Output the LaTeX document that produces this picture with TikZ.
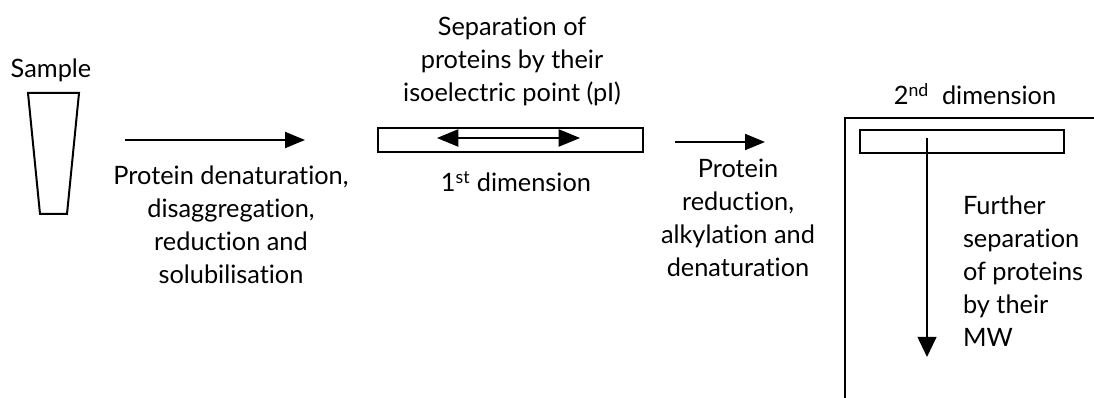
\documentclass[tikz,border=0pt]{standalone}
\usepackage{fontspec}
\setmainfont{Lato}[Ligatures=NoCommon]
\usetikzlibrary{arrows.meta}

\begin{document}
\begin{tikzpicture}[x=0.75pt,y=-0.75pt,line width=1.5pt,
  lbl/.style={align=center,font=\fontsize{19}{24.75}\selectfont,inner sep=0pt,anchor=base},
  fwd/.style={-{Triangle[length=15pt,width=12pt]}},
  strip/.style={draw,rectangle,inner sep=0pt}]
\useasboundingbox (0,0) rectangle (1094,398);

% sample tube
\draw (28,93) -- (79,93) -- (67,214) -- (40,214) -- cycle;
\node[lbl] (sample) at (51,78) {Sample};

% first step
\coordinate (a1s) at (125,140);
\coordinate (a1e) at (305,140);
\draw[fwd] (a1s) -- (a1e);
\node[lbl] (prep) at (231,284) {Protein denaturation,\\disaggregation,\\reduction and\\solubilisation};

% first dimension strip
\node[strip,minimum width=199pt,minimum height=18pt] (ief) at (510.5,140) {};
\coordinate (pl) at (437,138);
\coordinate (pr) at (580,138);
\draw[line width=0.8pt,{Triangle[length=16pt,width=13pt]}-{Triangle[length=16pt,width=13pt]}] (pl) -- (pr);
\node[lbl] (sep1) at (512,102) {Separation of\\proteins by their\\isoelectric point (pI)};
\node[lbl] (dim1) at (516,192) {1\textsuperscript{st} dimension};

% second step
\coordinate (a2s) at (675,142);
\coordinate (a2e) at (765,142);
\draw[fwd] (a2s) -- (a2e);
\node[lbl] (equil) at (738,277) {Protein\\reduction,\\alkylation and\\denaturation};

% second dimension gel
\coordinate (gtl) at (845,118);
\draw (1094,118) -- (gtl) -- (845,398);
\node[strip,minimum width=153pt,minimum height=17pt] (strip2) at (962,141.5) {};
\coordinate (mwe) at (927,357);
\draw[-{Triangle[length=15pt,width=14pt]}] (927,138) -- (mwe);
\node[lbl] (dim2) at (975,105) {2\textsuperscript{nd}\ \ dimension};
\node[lbl,align=left,anchor=base west] (sep2) at (962,347) {Further\\separation\\of proteins\\by their\\MW};
\end{tikzpicture}
\end{document}
